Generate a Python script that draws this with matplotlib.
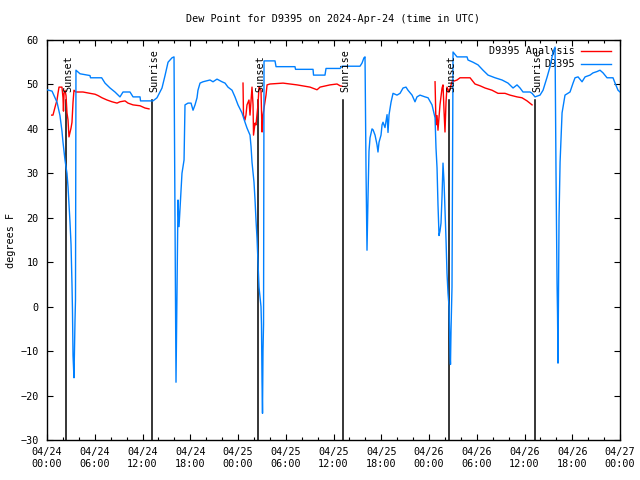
import matplotlib
matplotlib.use("Agg")
import matplotlib.pyplot as plt
import numpy as np

# ---- data (hours since 2024-04-24 00:00 UTC, degrees F) ----
obs_hours = [0.00, 0.63, 0.88, 1.26, 1.63, 1.88, 2.01, 2.26, 2.51, 2.64, 2.89, 3.02, 3.14, 3.20, 3.27, 3.39,
             3.52, 3.58, 3.64, 4.15, 5.40, 5.47, 6.87, 7.29, 7.92, 8.54, 9.17, 9.55, 10.43, 10.81, 11.69, 11.75,
             13.32, 13.82, 14.45, 14.83, 15.21, 15.71, 15.96, 16.08, 16.21, 16.34, 16.46, 16.59, 16.71, 16.96,
             17.22, 17.34, 17.72, 18.10, 18.22, 18.35, 18.60, 18.85, 18.97, 19.23, 19.60, 20.48, 20.86, 21.36,
             21.99, 22.37, 22.74, 23.25, 23.62, 24.00, 24.50, 24.88, 25.13, 25.51, 25.64, 25.76, 26.01, 26.14,
             26.26, 26.39, 26.51, 26.64, 26.89, 26.95, 27.02, 27.08, 27.14, 27.21, 27.27, 28.65, 28.78, 31.16,
             31.23, 33.43, 33.49, 34.93, 35.06, 36.82, 37.07, 39.33, 39.58, 39.83, 39.96, 40.09, 40.21, 40.34,
             40.46, 40.59, 40.84, 40.97, 41.22, 41.47, 41.59, 41.72, 41.97, 42.10, 42.22, 42.47, 42.73, 42.85,
             42.98, 43.23, 43.48, 43.98, 44.36, 44.74, 45.11, 45.36, 45.87, 46.24, 46.49, 46.87, 47.50, 47.88,
             48.38, 48.76, 48.88, 49.01, 49.13, 49.26, 49.38, 49.51, 49.64, 49.76, 49.89, 50.01, 50.14, 50.26,
             50.39, 50.52, 50.64, 50.70, 50.77, 50.89, 51.02, 51.52, 52.78, 52.90, 53.53, 54.16, 54.79, 55.42,
             56.30, 57.18, 57.93, 58.56, 59.06, 59.44, 59.81, 60.69, 60.95, 61.32, 61.95, 62.33, 62.83, 63.21,
             63.59, 63.84, 63.96, 64.09, 64.15, 64.21, 64.28, 64.34, 64.47, 64.72, 65.09, 65.72, 66.10, 66.35,
             66.73, 67.23, 67.61, 68.23, 68.61, 69.11, 69.49, 69.87, 70.37, 71.12, 71.38, 71.75, 72.00]
obs_dewpt = [48.8, 48.5, 47.5, 46.0, 43.0, 39.5, 37.0, 33.0, 30.0, 27.0, 19.0, 14.0, 5.0, -0.7, -11.0, -16.0,
             -3.0, 1.5, 53.2, 52.4, 52.0, 51.5, 51.5, 50.3, 49.2, 48.3, 47.2, 48.3, 48.3, 47.2, 47.2, 46.3,
             46.3, 47.0, 49.2, 52.0, 55.0, 56.0, 56.2, 20.0, -17.0, 5.0, 24.0, 18.0, 22.0, 30.0,
             33.0, 45.4, 45.8, 45.8, 45.0, 44.2, 45.4, 47.0, 48.7, 50.3, 50.6, 51.0, 50.6, 51.2,
             50.6, 50.3, 49.4, 48.7, 47.2, 45.4, 43.6, 41.5, 40.2, 38.6, 36.0, 32.5, 28.0, 24.0,
             19.5, 15.4, 10.0, 4.4, 0.0, -4.0, -17.0, -24.0, -10.0, -4.0, 55.3, 55.3, 54.0, 54.0,
             53.4, 53.4, 52.1, 52.1, 53.6, 53.6, 54.1, 54.1, 54.8, 56.0, 56.2, 30.0, 12.7, 25.0,
             35.0, 38.0, 40.0, 39.8, 38.6, 36.4, 34.8, 37.0, 38.6, 40.9, 41.5, 40.3, 43.2, 39.2,
             43.2, 46.0, 48.0, 47.6, 48.0, 49.2, 49.4, 48.7, 47.6, 46.1, 47.2, 47.6, 47.2, 47.0,
             45.4, 42.5, 35.7, 31.2, 22.9, 16.0, 17.0, 18.8, 25.0, 32.3, 28.0, 21.7, 15.0, 7.6,
             3.0, 0.0, -10.4, -13.0, -5.0, 4.4, 57.3, 56.2, 56.2, 55.5, 55.0, 54.4, 53.2, 52.1,
             51.5, 51.0, 50.3, 49.2, 49.9, 49.2, 48.3, 48.3, 48.0, 47.2, 47.6, 48.7, 51.6, 54.0,
             57.3, 58.4, 30.0, 5.3, -1.5, -12.7, 5.0, 20.0, 32.5, 43.6, 47.6, 48.3, 50.3, 51.5,
             51.7, 50.6, 51.7, 52.1, 52.6, 52.9, 53.2, 52.6, 51.5, 51.5, 50.3, 48.7, 48.3]

ana1_hours = [0.59, 0.75, 1.01, 1.26, 1.38, 1.51, 1.88, 2.01, 2.07, 2.14, 2.26, 2.39, 2.51, 2.64, 2.76, 3.02,
              3.14, 3.27, 3.39, 3.64, 4.52, 5.40, 6.03, 6.41, 6.91, 7.54, 8.17, 8.80, 9.17, 9.80, 10.18,
              10.81, 11.69, 12.31, 12.82]
ana1_dewpt = [43.1, 43.1, 44.9, 46.5, 48.0, 49.4, 49.4, 47.0, 44.0, 48.0, 48.7, 47.5, 43.6, 42.0, 38.2, 40.2,
              41.5, 46.0, 48.7, 48.3, 48.3, 48.0, 47.8, 47.5, 47.0, 46.5, 46.1, 45.8, 46.1, 46.3, 45.8,
              45.4, 45.2, 44.7, 44.5]
ana2_hours = [24.63, 24.69, 24.88, 25.00, 25.13, 25.38, 25.51, 25.76, 25.89, 25.95, 26.14, 26.26, 26.51,
              26.64, 26.89, 27.02, 27.14, 27.27, 27.52, 27.65, 28.02, 29.66, 31.42, 33.05, 33.93, 34.31,
              35.56, 36.44, 36.82, 37.07]
ana2_dewpt = [50.3, 43.1, 42.0, 43.1, 45.4, 46.5, 43.1, 49.4, 45.4, 38.6, 41.3, 40.9, 45.4,
              49.4, 48.7, 39.3, 43.1, 44.7, 47.6, 49.9, 50.1, 50.3, 49.9, 49.4, 48.8, 49.4,
              49.9, 50.1, 49.7, 49.6]
ana3_hours = [48.76, 48.88, 49.01, 49.13, 49.38, 49.64, 49.76, 49.89, 50.01, 50.14, 50.26, 50.52, 50.77,
              50.89, 51.52, 51.90, 52.28, 53.16, 53.78, 54.41, 55.04, 55.92, 56.67, 57.55, 58.18, 59.06,
              59.69, 60.32, 60.95]
ana3_dewpt = [50.6, 40.9, 43.0, 39.7, 45.4, 49.2, 49.9, 44.0, 39.3, 46.1, 49.4, 48.3, 49.9,
              50.6, 51.0, 51.5, 51.5, 51.5, 50.1, 49.7, 49.2, 48.7, 48.0, 48.0, 47.6, 47.2,
              47.0, 46.3, 45.4]

sunset_hours = [2.39, 26.51, 50.52]
sunrise_hours = [13.19, 37.20, 61.32]
sun_line_top = 46.5
sun_label_base = 48.3

tick_hours = list(range(0, 73, 6))
tick_labels = ["04/24\n00:00", "04/24\n06:00", "04/24\n12:00", "04/24\n18:00",
               "04/25\n00:00", "04/25\n06:00", "04/25\n12:00", "04/25\n18:00",
               "04/26\n00:00", "04/26\n06:00", "04/26\n12:00", "04/26\n18:00",
               "04/27\n00:00"]

FONT = "DejaVu Sans Mono"
FS = 7.3
plt.rcParams['font.family'] = [FONT]
plt.rcParams['font.size'] = FS

fig = plt.figure(figsize=(6.4, 4.8), dpi=100)
ax = fig.add_axes([47/640, 40/480, 573/640, 400/480])

RED = '#ff0000'
BLUE = '#0080ff'

for i, (hh, vv) in enumerate([(ana1_hours, ana1_dewpt), (ana2_hours, ana2_dewpt), (ana3_hours, ana3_dewpt)]):
    ax.plot(hh, vv, color=RED, lw=1.0, label="D9395 Analysis" if i == 0 else None, zorder=3)
ax.plot(obs_hours, obs_dewpt, color=BLUE, lw=1.0, label="D9395", zorder=3)

off = 0.30
for h in sunset_hours:
    ax.plot([h, h], [-30, sun_line_top], color='black', lw=1.1, zorder=2)
    ax.text(h + off, sun_label_base, "Sunset", rotation=90, ha='center', va='bottom', fontsize=FS)
for h in sunrise_hours:
    ax.plot([h, h], [-30, sun_line_top], color='black', lw=1.1, zorder=2)
    ax.text(h + off, sun_label_base, "Sunrise", rotation=90, ha='center', va='bottom', fontsize=FS)

ax.set_xlim(0, 72)
ax.set_ylim(-30, 60)
ax.set_xticks(tick_hours)
ax.set_xticklabels(tick_labels, fontsize=FS)
ax.set_xticks(range(0, 73, 2), minor=True)
ax.set_yticks(range(-30, 61, 10))
ax.tick_params(axis='both', which='major', direction='in', length=4, width=0.8,
               top=True, right=True, labelsize=FS)
ax.tick_params(axis='x', which='minor', direction='in', length=2.5, width=0.8, top=True)
ax.tick_params(axis='x', which='major', pad=5)
ax.tick_params(axis='y', which='major', pad=6)
for s in ax.spines.values():
    s.set_linewidth(1.0)

ax.set_ylabel("degrees F", fontsize=FS, labelpad=3)
ax.set_title("Dew Point for D9395 on 2024-Apr-24 (time in UTC)", fontsize=FS, pad=13)

leg = ax.legend(loc='upper right', bbox_to_anchor=(0.995, 1.0), frameon=False, markerfirst=False,
                handlelength=3.0, handletextpad=0.6, labelspacing=0.3, fontsize=FS, borderaxespad=0.2)
leg.set_zorder(1)

fig.savefig("out.png", dpi=100)
